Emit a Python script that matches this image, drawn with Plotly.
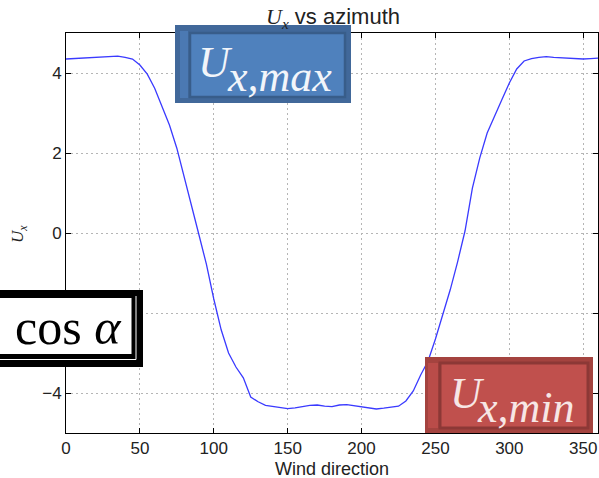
import plotly.graph_objects as go

# ---- data ----
wind_direction = [0, 5, 10, 15, 20, 25, 30, 35, 40, 45, 50, 55, 60, 65, 70, 75, 80, 85,
                  90, 95, 100, 105, 110, 115, 120, 125, 130, 135, 140, 145, 150, 155,
                  160, 165, 170, 175, 180, 185, 190, 195, 200, 205, 210, 215, 220, 225,
                  230, 235, 240, 245, 250, 255, 260, 265, 270, 275, 280, 285, 290, 295,
                  300, 305, 310, 315, 320, 325, 330, 335, 340, 345, 350, 355, 360]
ux_values = [4.35, 4.36, 4.37, 4.38, 4.40, 4.40, 4.41, 4.42, 4.39, 4.35, 4.20, 3.97,
             3.62, 3.18, 2.70, 2.12, 1.42, 0.70, -0.05, -0.78, -1.65, -2.42, -3.00,
             -3.35, -3.62, -4.10, -4.22, -4.31, -4.34, -4.36, -4.39, -4.37, -4.34,
             -4.31, -4.30, -4.33, -4.34, -4.30, -4.29, -4.32, -4.35, -4.38, -4.40,
             -4.38, -4.35, -4.33, -4.20, -3.95, -3.55, -3.20, -2.65, -2.05, -1.42,
             -0.72, 0.05, 1.12, 1.88, 2.50, 2.90, 3.34, 3.75, 4.10, 4.30, 4.36, 4.39,
             4.41, 4.39, 4.38, 4.38, 4.37, 4.35, 4.36, 4.37]
x_ticks = [0, 50, 100, 150, 200, 250, 300, 350]
y_ticks = [-4, -2, 0, 2, 4]

title_text = "<span style=\"font-family:Liberation Serif\"><i>U</i><sub><i>x</i></sub></span> vs azimuth"
x_label = "Wind direction"
y_label = "<i>U</i><sub><i>x</i></sub>"

W, H = 599, 478
ML, MR, MT, MB = 66, 1, 33, 45
PW, PH = W - ML - MR, H - MT - MB


def px(x):
    return (x - ML) / PW


def py(y):
    return (H - MB - y) / PH


fig = go.Figure()
fig.add_trace(go.Scatter(x=wind_direction, y=ux_values, mode="lines",
                         line=dict(color="#3a3aff", width=1.3), showlegend=False))

axis_common = dict(
    ticks="inside", ticklen=5, tickwidth=1, tickcolor="black",
    showline=True, linecolor="black", linewidth=1, mirror="ticks",
    showgrid=True, gridcolor="#b5b5b5", gridwidth=1, griddash="2px,3px",
    zeroline=False,
    tickfont=dict(family="Liberation Sans, Arial", size=17, color="#222222"),
)

fig.update_layout(
    width=W, height=H,
    margin=dict(l=ML, r=MR, t=MT, b=MB, pad=0),
    paper_bgcolor="white", plot_bgcolor="white",
    xaxis=dict(range=[0, 360], tickvals=x_ticks, **axis_common),
    yaxis=dict(range=[-5, 5], tickvals=y_ticks, **axis_common),
)


def rect(x0, x1, y0, y1, fill, lc=None, lw=0):
    fig.add_shape(type="rect", xref="paper", yref="paper", layer="above",
                  x0=px(x0), x1=px(x1), y0=py(y1), y1=py(y0),
                  fillcolor=fill,
                  line=dict(color=lc if lc else fill, width=lw))


# blue U_x,max box
rect(175, 351, 25, 103, "#41689a")
rect(180, 188, 31, 98, "#4b79b3")
rect(190, 345, 33, 97, "#4f81bd", "#385d8a", 2.5)

# red U_x,min box
rect(425, 593, 357, 433, "#a4433f")
rect(428, 438, 363, 428, "#ba4c49")
rect(440, 588, 363, 428, "#c0504d", "#8c3836", 3)

# black cos alpha box
rect(-10, 143, 290, 367, "black")
rect(-10, 131.5, 298, 354, "white")
fig.add_shape(type="path", xref="paper", yref="paper", layer="above",
              path=f"M {px(-10)},{py(359.5)} L {px(136)},{py(359.5)} L {px(136)},{py(296)}",
              line=dict(color="white", width=1))


def ann(text, x, y, size, color, family, xanchor="center", angle=0):
    fig.add_annotation(text=text, xref="paper", yref="paper", x=px(x), y=py(y),
                       xanchor=xanchor, yanchor="middle", showarrow=False,
                       textangle=angle, borderpad=0,
                       font=dict(size=size, color=color, family=family))


serif = "Liberation Serif, Times New Roman, serif"
sans = "Liberation Sans, Arial, sans-serif"

ann(title_text, 333, 18, 22, "#222222", sans)
ann(x_label, 332, 468.5, 18, "#222222", sans)
ann(y_label, 19, 234, 17, "#222222", serif, angle=-90)

ann("cos <i>α</i>", 68.5, 327, 50, "black", serif)
ann("<i>U</i>", 197, 63, 44, "#f2f5fa", serif, xanchor="left")
ann("<i>x,max</i>", 226, 76, 44, "#f2f5fa", serif, xanchor="left")
ann("<i>U</i>", 449, 393, 44, "#f7e6e5", serif, xanchor="left")
ann("<i>x,min</i>", 476, 407, 44, "#f7e6e5", serif, xanchor="left")

fig.write_html("out.html")
